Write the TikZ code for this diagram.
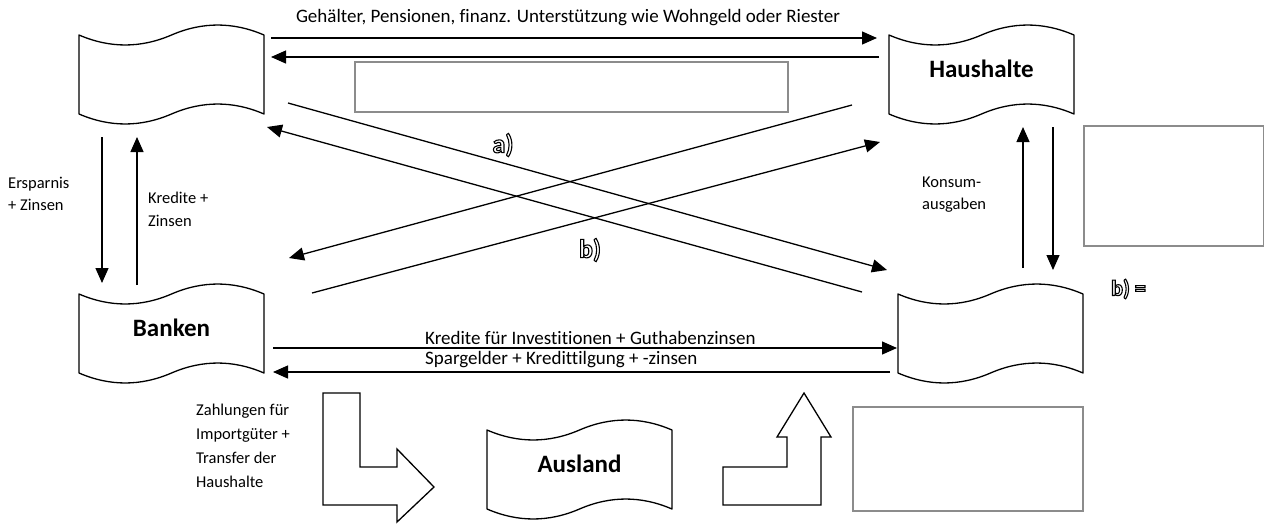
\documentclass[tikz,border=0pt]{standalone}
\usepackage{fontspec}
\setmainfont{Carlito}[Ligatures=NoCommon]
\usetikzlibrary{arrows.meta}
\newcommand\hollowtext[1]{\special{pdf:literal direct 1 Tr 1.1 w}#1\special{pdf:literal direct 0 Tr}}
\tikzset{
  flag/.style={draw, line width=1.3pt, line join=round},
  conn/.style={line width=1.3pt, -{Triangle[length=15pt,width=13pt]}},
  greybox/.style={draw=black!45, line width=1.6pt, inner sep=0pt, anchor=north west},
  lbl/.style={font=\fontsize{16.5}{23}\selectfont, align=left, inner sep=0pt},
  longlbl/.style={font=\fontsize{19}{23}\selectfont, inner sep=0pt},
  title/.style={font=\fontsize{25}{28}\selectfont\bfseries, inner sep=0pt},
  hollow/.style={font=\fontsize{26}{28}\selectfont\bfseries, inner sep=0pt},
  fatarrow/.style={draw, line width=1.3pt, line join=miter, fill=white},
}
\newcommand\flagat[4]{%
  \begin{scope}[shift={(#2,#3)}]
    \draw[flag] (0,0) .. controls (30.8,13.3) and (61.7,13.3) .. (92.5,0)
      .. controls (123.3,-13.3) and (154.2,-13.3) .. (185,0) -- (185,79)
      .. controls (154.2,65.7) and (123.3,65.7) .. (92.5,79)
      .. controls (61.7,92.3) and (30.8,92.3) .. (0,79) -- cycle;
    \node[title] (#1) at (92.5,34) {#4};
  \end{scope}}
\begin{document}
\begin{tikzpicture}[x=1pt,y=-1pt]
\useasboundingbox (0,0) rectangle (1264,523);
% flags
\flagat{staat}{79}{35}{}
\flagat{haushalte}{889}{35}{Haushalte}
\flagat{banken}{79}{294}{Banken}
\flagat{unternehmen}{898}{294}{}
\flagat{ausland}{487}{430}{Ausland}
% top arrows
\node[longlbl] (tgeh) at (568,18) {Gehälter, Pensionen, finanz. Unterstützung wie Wohngeld oder Riester};
\coordinate (t1s) at (271,38); \coordinate (t1e) at (877,38);
\coordinate (t2s) at (879,57); \coordinate (t2e) at (271,57);
\draw[conn] (t1s) -- (t1e);
\draw[conn] (t2s) -- (t2e);
\node[greybox, minimum width=433, minimum height=50] (box1) at (354,61) {};
% left vertical
\coordinate (l1s) at (102,137); \coordinate (l1e) at (102,283);
\coordinate (l2s) at (137,285); \coordinate (l2e) at (137,137);
\draw[conn] (l1s) -- (l1e);
\draw[conn] (l2s) -- (l2e);
\node[lbl, anchor=north west, font=\fontsize{16.5}{22}\selectfont] (tspar) at (8,177) {Ersparnis\\+ Zinsen};
\node[lbl, anchor=north west, font=\fontsize{16.5}{23}\selectfont] (tkred) at (148,192) {Kredite +\\Zinsen};
% right vertical
\coordinate (r1s) at (1023,268); \coordinate (r1e) at (1023,127);
\coordinate (r2s) at (1053,127); \coordinate (r2e) at (1053,270);
\draw[conn] (r1s) -- (r1e);
\draw[conn] (r2s) -- (r2e);
\node[lbl, anchor=north west, font=\fontsize{16.5}{22}\selectfont] (tkons) at (922,177) {Konsum-\\ausgaben};
\node[greybox, minimum width=180, minimum height=120] (box2) at (1083,125) {};
% diagonals
\coordinate (aS) at (288,103); \coordinate (aE) at (887,270);
\coordinate (bS) at (862,292); \coordinate (bE) at (267,127);
\coordinate (cS) at (852,105); \coordinate (cE) at (289,258);
\coordinate (dS) at (312,293); \coordinate (dE) at (880,142);
\draw[conn] (aS) -- (aE);
\draw[conn] (bS) -- (bE);
\draw[conn] (cS) -- (cE);
\draw[conn] (dS) -- (dE);
% bottom arrows
\coordinate (k1s) at (273,348); \coordinate (k1e) at (897,348);
\coordinate (k2s) at (890,372); \coordinate (k2e) at (273,372);
\draw[conn] (k1s) -- (k1e);
\draw[conn] (k2s) -- (k2e);
\node[longlbl, anchor=west] (tkrinv) at (425,338) {Kredite für Investitionen + Guthabenzinsen};
\node[longlbl, anchor=west] (tspg) at (425,360) {Spargelder + Kredittilgung + -zinsen};
% fat bent arrows
\draw[fatarrow] (323,393) -- (360,393) -- (360,467) -- (397,467) -- (397,449) -- (434,487)
  -- (397,522) -- (397,505) -- (323,505) -- cycle;
\draw[fatarrow] (804,393) -- (831,437) -- (821,437) -- (821,505) -- (723,505) -- (723,467)
  -- (787,467) -- (787,437) -- (777,437) -- cycle;
\node[lbl, anchor=north west, font=\fontsize{16.5}{24}\selectfont] (tzahl) at (196,404) {Zahlungen für\\Importgüter +\\Transfer der\\Haushalte};
\node[greybox, minimum width=230, minimum height=104] (box3) at (852,406) {};
% hollow labels
\node[hollow] (la) at (503,145) {\hollowtext{a)}};
\node[hollow] (lb) at (590,250) {\hollowtext{b)}};
\node[hollow, anchor=west, font=\fontsize{22}{24}\selectfont\bfseries] (lbeq) at (1111,289) {\hollowtext{b) =}};
\end{tikzpicture}
\end{document}
